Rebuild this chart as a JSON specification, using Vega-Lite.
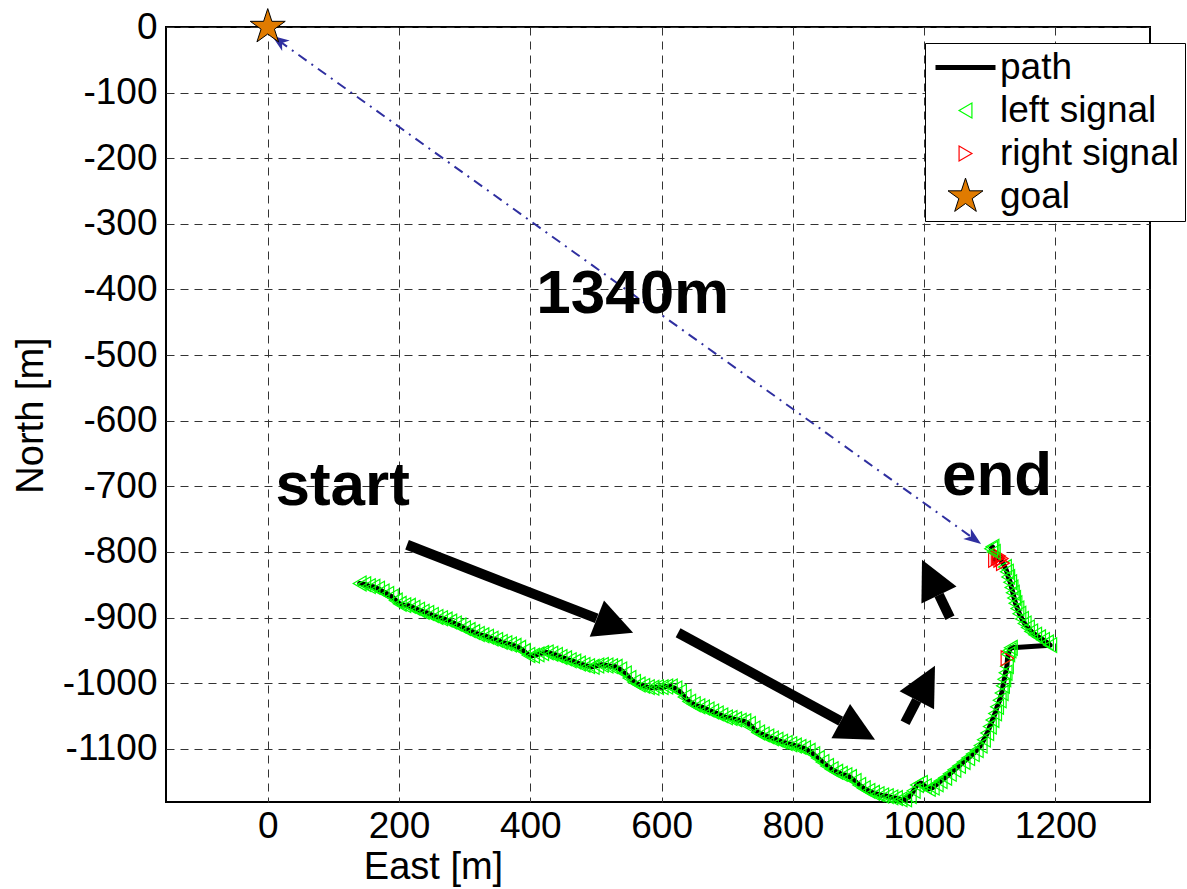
{
  "$schema": "https://vega.github.io/schema/vega-lite/v6.json",
  "autosize": {"type": "none"},
  "width": 984,
  "height": 775,
  "padding": {"left": 166, "top": 27, "right": 37, "bottom": 87},
  "background": "white",
  "datasets": {
    "path": [
      {"i":1,"x":140,"y":-848,"kind":"left signal"},{"i":2,"x":147,"y":-849,"kind":"left signal"},{"i":3,"x":154,"y":-852,"kind":"left signal"},{"i":4,"x":161,"y":-853,"kind":"left signal"},{"i":5,"x":168,"y":-856,"kind":"left signal"},{"i":6,"x":175,"y":-860,"kind":"left signal"},{"i":7,"x":182,"y":-864,"kind":"left signal"},{"i":8,"x":189,"y":-868,"kind":"left signal"},{"i":9,"x":195,"y":-874,"kind":"left signal"},{"i":10,"x":201,"y":-879,"kind":"left signal"},
      {"i":11,"x":208,"y":-881,"kind":"left signal"},{"i":12,"x":215,"y":-882,"kind":"left signal"},{"i":13,"x":222,"y":-885,"kind":"left signal"},{"i":14,"x":229,"y":-888,"kind":"left signal"},{"i":15,"x":236,"y":-891,"kind":"left signal"},{"i":16,"x":243,"y":-893,"kind":"left signal"},{"i":17,"x":250,"y":-896,"kind":"left signal"},{"i":18,"x":257,"y":-899,"kind":"left signal"},{"i":19,"x":264,"y":-901,"kind":"left signal"},{"i":20,"x":271,"y":-903,"kind":"left signal"},
      {"i":21,"x":278,"y":-906,"kind":"left signal"},{"i":22,"x":285,"y":-909,"kind":"left signal"},{"i":23,"x":292,"y":-912,"kind":"left signal"},{"i":24,"x":299,"y":-916,"kind":"left signal"},{"i":25,"x":306,"y":-919,"kind":"left signal"},{"i":26,"x":313,"y":-922,"kind":"left signal"},{"i":27,"x":320,"y":-925,"kind":"left signal"},{"i":28,"x":327,"y":-927,"kind":"left signal"},{"i":29,"x":334,"y":-929,"kind":"left signal"},{"i":30,"x":341,"y":-932,"kind":"left signal"},
      {"i":31,"x":348,"y":-934,"kind":"left signal"},{"i":32,"x":355,"y":-937,"kind":"left signal"},{"i":33,"x":362,"y":-939,"kind":"left signal"},{"i":34,"x":369,"y":-941,"kind":"left signal"},{"i":35,"x":376,"y":-943,"kind":"left signal"},{"i":36,"x":383,"y":-946,"kind":"left signal"},{"i":37,"x":390,"y":-951,"kind":"left signal"},{"i":38,"x":397,"y":-957,"kind":"left signal"},{"i":39,"x":404,"y":-958,"kind":"left signal"},{"i":40,"x":411,"y":-956,"kind":"left signal"},
      {"i":41,"x":418,"y":-954,"kind":"left signal"},{"i":42,"x":425,"y":-953,"kind":"left signal"},{"i":43,"x":432,"y":-955,"kind":"left signal"},{"i":44,"x":439,"y":-957,"kind":"left signal"},{"i":45,"x":446,"y":-960,"kind":"left signal"},{"i":46,"x":453,"y":-962,"kind":"left signal"},{"i":47,"x":460,"y":-965,"kind":"left signal"},{"i":48,"x":467,"y":-967,"kind":"left signal"},{"i":49,"x":474,"y":-970,"kind":"left signal"},{"i":50,"x":481,"y":-972,"kind":"left signal"},
      {"i":51,"x":488,"y":-974,"kind":"left signal"},{"i":52,"x":495,"y":-975,"kind":"left signal"},{"i":53,"x":502,"y":-973,"kind":"left signal"},{"i":54,"x":509,"y":-972,"kind":"left signal"},{"i":55,"x":516,"y":-973,"kind":"left signal"},{"i":56,"x":523,"y":-974,"kind":"left signal"},{"i":57,"x":530,"y":-975,"kind":"left signal"},{"i":58,"x":537,"y":-979,"kind":"left signal"},{"i":59,"x":544,"y":-985,"kind":"left signal"},{"i":60,"x":551,"y":-992,"kind":"left signal"},
      {"i":61,"x":558,"y":-998,"kind":"left signal"},{"i":62,"x":565,"y":-1002,"kind":"left signal"},{"i":63,"x":572,"y":-1004,"kind":"left signal"},{"i":64,"x":579,"y":-1006,"kind":"left signal"},{"i":65,"x":586,"y":-1007,"kind":"left signal"},{"i":66,"x":593,"y":-1006,"kind":"left signal"},{"i":67,"x":600,"y":-1006,"kind":"left signal"},{"i":68,"x":607,"y":-1005,"kind":"left signal"},{"i":69,"x":614,"y":-1005,"kind":"left signal"},{"i":70,"x":621,"y":-1008,"kind":"left signal"},
      {"i":71,"x":628,"y":-1013,"kind":"left signal"},{"i":72,"x":635,"y":-1021,"kind":"left signal"},{"i":73,"x":642,"y":-1028,"kind":"left signal"},{"i":74,"x":649,"y":-1032,"kind":"left signal"},{"i":75,"x":656,"y":-1035,"kind":"left signal"},{"i":76,"x":663,"y":-1037,"kind":"left signal"},{"i":77,"x":670,"y":-1040,"kind":"left signal"},{"i":78,"x":677,"y":-1043,"kind":"left signal"},{"i":79,"x":684,"y":-1046,"kind":"left signal"},{"i":80,"x":691,"y":-1049,"kind":"left signal"},
      {"i":81,"x":698,"y":-1052,"kind":"left signal"},{"i":82,"x":705,"y":-1053,"kind":"left signal"},{"i":83,"x":712,"y":-1055,"kind":"left signal"},{"i":84,"x":719,"y":-1057,"kind":"left signal"},{"i":85,"x":726,"y":-1058,"kind":"left signal"},{"i":86,"x":733,"y":-1062,"kind":"left signal"},{"i":87,"x":740,"y":-1069,"kind":"left signal"},{"i":88,"x":747,"y":-1075,"kind":"left signal"},{"i":89,"x":754,"y":-1078,"kind":"left signal"},{"i":90,"x":761,"y":-1081,"kind":"left signal"},
      {"i":91,"x":768,"y":-1084,"kind":"left signal"},{"i":92,"x":775,"y":-1086,"kind":"left signal"},{"i":93,"x":782,"y":-1089,"kind":"left signal"},{"i":94,"x":789,"y":-1091,"kind":"left signal"},{"i":95,"x":796,"y":-1093,"kind":"left signal"},{"i":96,"x":803,"y":-1095,"kind":"left signal"},{"i":97,"x":810,"y":-1097,"kind":"left signal"},{"i":98,"x":817,"y":-1099,"kind":"left signal"},{"i":99,"x":824,"y":-1103,"kind":"left signal"},{"i":100,"x":831,"y":-1108,"kind":"left signal"},
      {"i":101,"x":838,"y":-1114,"kind":"left signal"},{"i":102,"x":845,"y":-1120,"kind":"left signal"},{"i":103,"x":852,"y":-1126,"kind":"left signal"},{"i":104,"x":859,"y":-1131,"kind":"left signal"},{"i":105,"x":866,"y":-1135,"kind":"left signal"},{"i":106,"x":873,"y":-1138,"kind":"left signal"},{"i":107,"x":880,"y":-1140,"kind":"left signal"},{"i":108,"x":887,"y":-1143,"kind":"left signal"},{"i":109,"x":894,"y":-1149,"kind":"left signal"},{"i":110,"x":901,"y":-1155,"kind":"left signal"},
      {"i":111,"x":908,"y":-1160,"kind":"left signal"},{"i":112,"x":915,"y":-1164,"kind":"left signal"},{"i":113,"x":922,"y":-1167,"kind":"left signal"},{"i":114,"x":929,"y":-1169,"kind":"left signal"},{"i":115,"x":936,"y":-1171,"kind":"left signal"},{"i":116,"x":943,"y":-1172,"kind":"left signal"},{"i":117,"x":950,"y":-1174,"kind":"left signal"},{"i":118,"x":957,"y":-1175,"kind":"left signal"},{"i":119,"x":964,"y":-1177,"kind":"left signal"},{"i":120,"x":971,"y":-1177,"kind":"left signal"},
      {"i":121,"x":978,"y":-1172,"kind":"left signal"},{"i":122,"x":984,"y":-1164,"kind":"left signal"},{"i":123,"x":989,"y":-1155,"kind":"left signal"},{"i":124,"x":995,"y":-1152,"kind":"left signal"},{"i":125,"x":1001,"y":-1157,"kind":"left signal"},{"i":126,"x":1007,"y":-1161,"kind":"left signal"},{"i":127,"x":1013,"y":-1159,"kind":"left signal"},{"i":128,"x":1019,"y":-1154,"kind":"left signal"},{"i":129,"x":1025,"y":-1149,"kind":"left signal"},{"i":130,"x":1032,"y":-1144,"kind":"left signal"},
      {"i":131,"x":1039,"y":-1138,"kind":"left signal"},{"i":132,"x":1046,"y":-1132,"kind":"left signal"},{"i":133,"x":1053,"y":-1126,"kind":"left signal"},{"i":134,"x":1060,"y":-1120,"kind":"left signal"},{"i":135,"x":1067,"y":-1114,"kind":"left signal"},{"i":136,"x":1074,"y":-1108,"kind":"left signal"},{"i":137,"x":1080,"y":-1102,"kind":"left signal"},{"i":138,"x":1086,"y":-1095,"kind":"left signal"},{"i":139,"x":1091,"y":-1086,"kind":"left signal"},{"i":140,"x":1096,"y":-1076,"kind":"left signal"},
      {"i":141,"x":1100,"y":-1066,"kind":"left signal"},{"i":142,"x":1104,"y":-1056,"kind":"left signal"},{"i":143,"x":1108,"y":-1046,"kind":"left signal"},{"i":144,"x":1111,"y":-1036,"kind":"left signal"},{"i":145,"x":1115,"y":-1026,"kind":"left signal"},{"i":146,"x":1118,"y":-1015,"kind":"left signal"},{"i":147,"x":1120,"y":-1004,"kind":"left signal"},{"i":148,"x":1122,"y":-994,"kind":"left signal"},{"i":149,"x":1124,"y":-984,"kind":"left signal"},{"i":150,"x":1126,"y":-974,"kind":"left signal"},
      {"i":151,"x":1127,"y":-962,"kind":"right signal"},{"i":152,"x":1128,"y":-956,"kind":"left signal"},{"i":153,"x":1130,"y":-950,"kind":"left signal"},{"i":154,"x":1132,"y":-946,"kind":"left signal"},{"i":155,"x":1192,"y":-942,"kind":"left signal"},{"i":156,"x":1187,"y":-938,"kind":"left signal"},{"i":157,"x":1181,"y":-934,"kind":"left signal"},{"i":158,"x":1175,"y":-930,"kind":"left signal"},{"i":159,"x":1169,"y":-926,"kind":"left signal"},{"i":160,"x":1163,"y":-921,"kind":"left signal"},
      {"i":161,"x":1158,"y":-915,"kind":"left signal"},{"i":162,"x":1153,"y":-909,"kind":"left signal"},{"i":163,"x":1149,"y":-902,"kind":"left signal"},{"i":164,"x":1145,"y":-894,"kind":"left signal"},{"i":165,"x":1142,"y":-886,"kind":"left signal"},{"i":166,"x":1139,"y":-878,"kind":"left signal"},{"i":167,"x":1137,"y":-870,"kind":"left signal"},{"i":168,"x":1135,"y":-862,"kind":"left signal"},{"i":169,"x":1133,"y":-854,"kind":"left signal"},{"i":170,"x":1131,"y":-846,"kind":"left signal"},
      {"i":171,"x":1128,"y":-838,"kind":"left signal"},{"i":172,"x":1126,"y":-830,"kind":"left signal"},{"i":173,"x":1123,"y":-823,"kind":"left signal"},{"i":174,"x":1120,"y":-817,"kind":"right signal"},{"i":175,"x":1116,"y":-812,"kind":"right signal"},{"i":176,"x":1112,"y":-809,"kind":"right signal"},{"i":177,"x":1108,"y":-812,"kind":"right signal"},{"i":178,"x":1114,"y":-806,"kind":"right signal"},{"i":179,"x":1118,"y":-810,"kind":"right signal"},{"i":180,"x":1106,"y":-800,"kind":"left signal"},
      {"i":181,"x":1102,"y":-795,"kind":"left signal"},{"i":182,"x":1104,"y":-792,"kind":"left signal"},
      {"i":183,"x":0,"y":0,"kind":"goal"}
    ],
    "distance": [{"x": 17, "y": -21, "x2": 1076, "y2": -780}],
    "distanceHeads": [{"x": 17, "y": -21, "heading": 305.6}, {"x": 1076, "y": -780, "heading": 125.6}],
    "arrows": [
      {"x": 212.2, "y": -789.0, "x2": 501.1, "y2": -901.3, "hx": 529.0, "hy": -912.3, "heading": 111.5},
      {"x": 625.1, "y": -923.1, "x2": 872.8, "y2": -1057.7, "hx": 899.0, "hy": -1071.9, "heading": 118.5},
      {"x": 970.9, "y": -1060.2, "x2": 988.7, "y2": -1025.9, "hx": 1002.6, "hy": -999.7, "heading": 27.8},
      {"x": 1039.3, "y": -900.2, "x2": 1022.5, "y2": -865.3, "hx": 1009.6, "hy": -838.7, "heading": 334.2}
    ],
    "labels": [
      {"text": "1340m", "x": 556, "y": -436},
      {"text": "start", "x": 114, "y": -728},
      {"text": "end", "x": 1111, "y": -713}
    ]
  },
  "layer": [
    {
      "data": {"name": "path"},
      "transform": [{"filter": "datum.kind !== 'goal'"}],
      "mark": {"type": "line", "color": "black", "strokeWidth": 5, "strokeJoin": "round", "strokeCap": "round"},
      "encoding": {
        "x": {"field": "x", "type": "quantitative",
          "scale": {"domain": [-155, 1344], "nice": false, "zero": false},
          "axis": {"values": [0, 200, 400, 600, 800, 1000, 1200], "labelExpr": "'' + datum.value", "title": "East [m]", "titleX": 267, "titleY": 65, "titleBaseline": "middle", "titleAlign": "center", "labelPadding": 6, "labelFlush": false, "labelOverlap": false}},
        "y": {"field": "y", "type": "quantitative",
          "scale": {"domain": [-1181, 0], "nice": false, "zero": false},
          "axis": {"values": [-1100, -1000, -900, -800, -700, -600, -500, -400, -300, -200, -100, 0], "labelExpr": "'' + datum.value", "title": "North [m]", "titleX": -135, "titleY": 388, "titleAngle": -90, "titleBaseline": "middle", "titleAlign": "center", "labelPadding": 9, "labelFlush": false, "labelOverlap": false}},
        "order": {"field": "i", "type": "quantitative"}
      }
    },
    {
      "data": {"name": "distance"},
      "mark": {"type": "rule", "color": "#2f2fa0", "strokeWidth": 2, "strokeDash": [10, 6, 2, 6]},
      "encoding": {
        "x": {"field": "x", "type": "quantitative"},
        "y": {"field": "y", "type": "quantitative"},
        "x2": {"field": "x2"},
        "y2": {"field": "y2"}
      }
    },
    {
      "data": {"name": "distanceHeads"},
      "mark": {"type": "point", "shape": "M0,-1L0.75,1L0,0.45L-0.75,1Z", "size": 300, "filled": true, "color": "#2f2fa0", "opacity": 1},
      "encoding": {
        "x": {"field": "x", "type": "quantitative"},
        "y": {"field": "y", "type": "quantitative"},
        "angle": {"field": "heading", "type": "quantitative", "scale": null}
      }
    },
    {
      "data": {"name": "path"},
      "mark": {"type": "point", "opacity": 1},
      "encoding": {
        "x": {"field": "x", "type": "quantitative"},
        "y": {"field": "y", "type": "quantitative"},
        "order": {"field": "i", "type": "quantitative"},
        "shape": {"field": "kind", "type": "nominal", "legend": {"title": null},
          "scale": {"domain": ["path", "left signal", "right signal", "goal"], "range": ["stroke", "triangle-left", "triangle-right", "M0,-1L0.225,-0.309L0.951,-0.309L0.363,0.118L0.588,0.809L0,0.382L-0.588,0.809L-0.363,0.118L-0.951,-0.309L-0.225,-0.309Z"]}},
        "stroke": {"field": "kind", "type": "nominal", "legend": {"title": null},
          "scale": {"domain": ["path", "left signal", "right signal", "goal"], "range": ["#000000", "#00ff00", "#ff0000", "#000000"]}},
        "fill": {"field": "kind", "type": "nominal", "legend": {"title": null},
          "scale": {"domain": ["path", "left signal", "right signal", "goal"], "range": ["#000000", "transparent", "transparent", "#e07b00"]}},
        "size": {"field": "kind", "type": "nominal", "legend": {"title": null},
          "scale": {"type": "ordinal", "domain": ["path", "left signal", "right signal", "goal"], "range": [3600, 220, 220, 1354]}},
        "strokeWidth": {"field": "kind", "type": "nominal", "legend": {"title": null},
          "scale": {"type": "ordinal", "domain": ["path", "left signal", "right signal", "goal"], "range": [5, 1.2, 1.2, 1]}}
      }
    },
    {
      "data": {"name": "arrows"},
      "mark": {"type": "rule", "color": "black", "strokeWidth": 10, "strokeCap": "butt"},
      "encoding": {
        "x": {"field": "x", "type": "quantitative"},
        "y": {"field": "y", "type": "quantitative"},
        "x2": {"field": "x2"},
        "y2": {"field": "y2"}
      }
    },
    {
      "data": {"name": "arrows"},
      "mark": {"type": "point", "shape": "M0,-1L1,1L-1,1Z", "size": 1521, "filled": true, "color": "black", "opacity": 1},
      "encoding": {
        "x": {"field": "hx", "type": "quantitative"},
        "y": {"field": "hy", "type": "quantitative"},
        "angle": {"field": "heading", "type": "quantitative", "scale": null}
      }
    },
    {
      "data": {"name": "labels"},
      "mark": {"type": "text", "font": "Liberation Sans", "fontWeight": "bold", "fontSize": 62, "align": "center", "baseline": "alphabetic", "color": "black"},
      "encoding": {
        "x": {"field": "x", "type": "quantitative"},
        "y": {"field": "y", "type": "quantitative"},
        "text": {"field": "text"}
      }
    }
  ],
  "config": {
    "view": {"stroke": "black", "strokeWidth": 2},
    "axis": {
      "labelFont": "Liberation Sans", "labelFontSize": 37, "labelColor": "black",
      "titleFont": "Liberation Sans", "titleFontSize": 38, "titleFontWeight": "normal", "titleColor": "black",
      "domain": false, "grid": true, "gridColor": "#333333", "gridDash": [8, 6], "gridWidth": 1, "gridOpacity": 1,
      "ticks": false
    },
    "legend": {
      "orient": "none", "legendX": 759, "legendY": 16,
      "strokeColor": "black", "fillColor": "white", "padding": 6, "rowPadding": 5,
      "labelFont": "Liberation Sans", "labelFontSize": 37, "labelColor": "black", "labelLimit": 400,
      "symbolOffset": 2, "labelOffset": 2, "clipHeight": 37, "cornerRadius": 0
    }
  }
}
